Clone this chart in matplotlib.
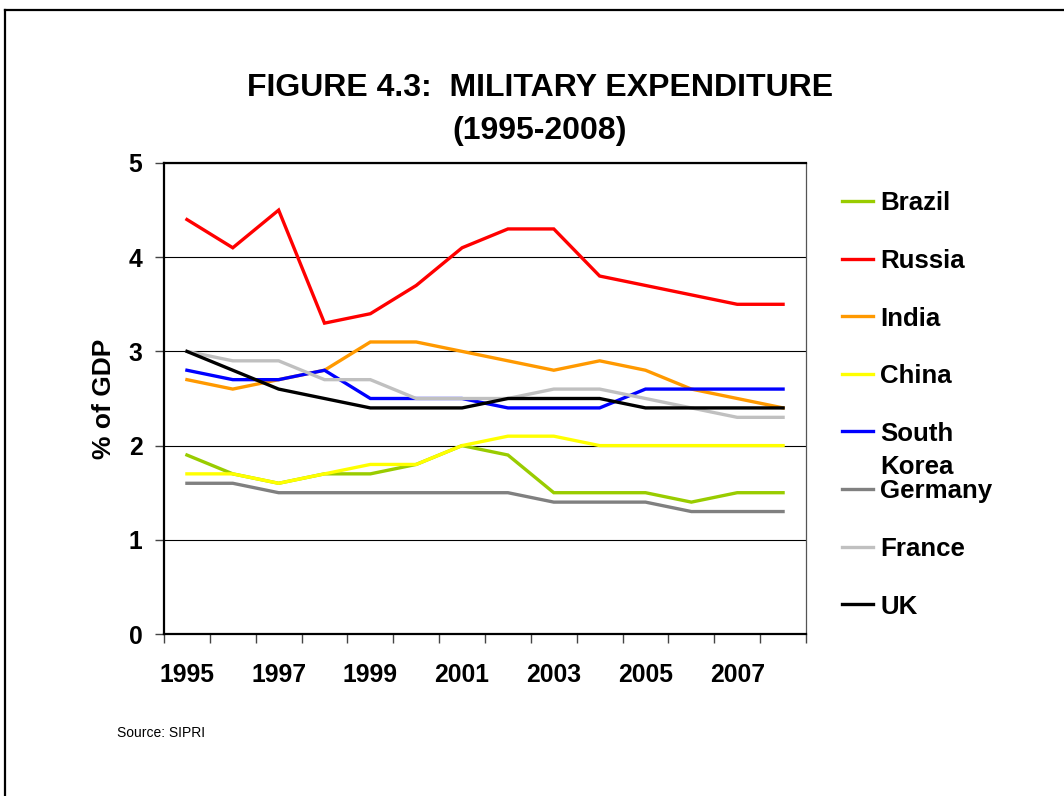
import matplotlib.pyplot as plt
import numpy as np
from matplotlib.lines import Line2D

plt.rcParams['font.family'] = ['Liberation Sans', 'DejaVu Sans']

years = list(range(1995, 2009))
brazil = [1.9, 1.7, 1.6, 1.7, 1.7, 1.8, 2.0, 1.9, 1.5, 1.5, 1.5, 1.4, 1.5, 1.5]
russia = [4.4, 4.1, 4.5, 3.3, 3.4, 3.7, 4.1, 4.3, 4.3, 3.8, 3.7, 3.6, 3.5, 3.5]
india = [2.7, 2.6, 2.7, 2.8, 3.1, 3.1, 3.0, 2.9, 2.8, 2.9, 2.8, 2.6, 2.5, 2.4]
china = [1.7, 1.7, 1.6, 1.7, 1.8, 1.8, 2.0, 2.1, 2.1, 2.0, 2.0, 2.0, 2.0, 2.0]
south_korea = [2.8, 2.7, 2.7, 2.8, 2.5, 2.5, 2.5, 2.4, 2.4, 2.4, 2.6, 2.6, 2.6, 2.6]
germany = [1.6, 1.6, 1.5, 1.5, 1.5, 1.5, 1.5, 1.5, 1.4, 1.4, 1.4, 1.3, 1.3, 1.3]
france = [3.0, 2.9, 2.9, 2.7, 2.7, 2.5, 2.5, 2.5, 2.6, 2.6, 2.5, 2.4, 2.3, 2.3]
uk = [3.0, 2.8, 2.6, 2.5, 2.4, 2.4, 2.4, 2.5, 2.5, 2.5, 2.4, 2.4, 2.4, 2.4]

names = ["Brazil", "Russia", "India", "China", "South\nKorea", "Germany", "France", "UK"]
series = [brazil, russia, india, china, south_korea, germany, france, uk]
colors = ["#99CC00", "#FF0000", "#FF9900", "#FFFF00", "#0000FF", "#808080", "#C0C0C0", "#000000"]

W, H = 1064, 796
fig = plt.figure(figsize=(W / 100, H / 100), dpi=100)
ax = fig.add_axes([164 / W, 1 - 634 / H, 642 / W, 471 / H])

x = np.arange(len(years))
for vals, c in zip(series, colors):
    ax.plot(x, vals, color=c, lw=2.4, solid_joinstyle='miter')

ax.set_xlim(-0.5, len(years) - 0.5)
ax.set_ylim(0, 5)
ax.set_yticks(range(6))
ax.set_yticklabels([str(v) for v in range(6)])
ax.yaxis.grid(True, color='black', lw=0.8)
ax.set_axisbelow(True)

# ticks between categories, labels on every other year
ax.set_xticks(np.arange(-0.5, len(years), 1.0))
ax.set_xticklabels([])
ax.set_xticks(x[::2], minor=True)
ax.set_xticklabels([str(y) for y in years[::2]], minor=True)
ax.tick_params(axis='x', which='minor', length=0, pad=21, labelsize=17.8)
ax.tick_params(axis='x', which='major', length=6.5, width=1, color='#444444', direction='out')
ax.tick_params(axis='y', length=6.5, width=1, color='#444444', direction='out', pad=9, labelsize=17.8)
for lab in ax.get_xticklabels(minor=True) + ax.get_yticklabels():
    lab.set_fontweight('bold')

for s in ['left', 'bottom', 'top']:
    ax.spines[s].set_linewidth(1.6)
    ax.spines[s].set_color('black')
ax.spines['right'].set_linewidth(0.9)
ax.spines['right'].set_color('#555555')

ax.set_ylabel("% of GDP", fontsize=19, fontweight='bold', labelpad=9)

fig.text(540 / W, 1 - 88 / H, "FIGURE 4.3:  MILITARY EXPENDITURE", ha='center', va='center',
         fontsize=23, fontweight='bold')
fig.text(540 / W, 1 - 131 / H, "(1995-2008)", ha='center', va='center',
         fontsize=23, fontweight='bold')

# legend, drawn as in the spreadsheet: evenly spaced rows, wrapped names run downwards
for i, (name, c) in enumerate(zip(names, colors)):
    ypx = 201 + i * 57.6
    yy = 1 - ypx / H
    fig.add_artist(Line2D([842 / W, 873 / W], [yy, yy], transform=fig.transFigure, color=c, lw=2.4))
    for j, part in enumerate(name.split("\n")):
        fig.text(880 / W, 1 - (ypx + 9.3 + j * 33) / H, part, va='baseline', ha='left',
                 fontsize=18.6, fontweight='bold')

fig.text(117 / W, 1 - 733 / H, "Source: SIPRI", fontsize=10, va='center', ha='left')

# page frame
fig.add_artist(Line2D([5 / W, 5 / W], [0, 1 - 10 / H], transform=fig.transFigure, color='black', lw=1.6))
fig.add_artist(Line2D([5 / W, 1], [1 - 10 / H, 1 - 10 / H], transform=fig.transFigure, color='black', lw=1.6))

fig.savefig("out.png", dpi=100)
plt.close(fig)
